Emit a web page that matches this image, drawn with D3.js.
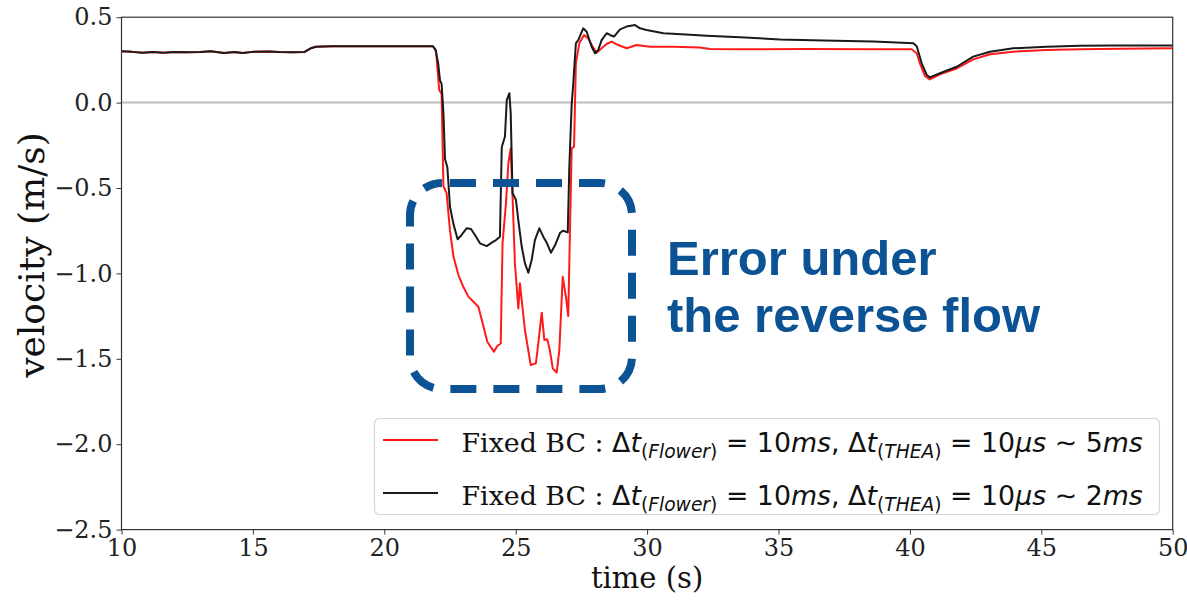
<!DOCTYPE html>
<html>
<head>
<meta charset="utf-8">
<script src="https://cdn.jsdelivr.net/npm/d3@7"></script>
<style>
  html, body { margin: 0; padding: 0; background: #fff; }
  svg { display: block; }
</style>
</head>
<body>
<svg id="chart" width="1187" height="601"></svg>
<script>
// Velocity time histories for two THEA time-step settings
const timeFine = [10.0, 10.4, 10.8, 11.2, 11.6, 12.0, 12.5, 13.0, 13.4, 13.9, 14.3, 14.6, 15.0, 15.6, 16.0, 16.5, 16.95,
  17.2, 17.4, 18.0, 19.0, 20.0, 21.0, 21.85, 21.97, 22.09, 22.18, 22.25, 22.37, 22.50, 22.63, 22.82, 23.01, 23.20,
  23.39, 23.58, 23.74, 23.92, 24.17, 24.30, 24.43, 24.50, 24.63, 24.72, 24.81, 24.88, 24.97, 25.10, 25.16, 25.35,
  25.57, 25.77, 25.86, 25.99, 26.09, 26.20, 26.30, 26.41, 26.56, 26.66, 26.79, 26.91, 27.00, 27.07, 27.13, 27.22,
  27.29, 27.42, 27.60, 27.76, 27.93, 28.08, 28.27, 28.46, 28.65, 28.90, 29.22, 29.60, 30.11, 31.0, 32.0, 32.4,
  33.5, 36.07, 38.6, 40.07, 40.26, 40.38, 40.57, 40.76, 41.14, 41.78, 42.41, 43.05, 43.93, 45.2, 46.47, 48.0, 50.0];
const velFine = [0.300, 0.297, 0.292, 0.296, 0.292, 0.296, 0.295, 0.296, 0.301, 0.291, 0.296, 0.291, 0.297, 0.299, 0.296, 0.295, 0.296,
  0.318, 0.327, 0.330, 0.330, 0.330, 0.330, 0.330, 0.300, 0.074, 0.050, -0.490, -0.530, -0.750, -0.900, -1.010, -1.080, -1.136,
  -1.166, -1.195, -1.290, -1.400, -1.458, -1.425, -1.410, -0.820, -0.590, -0.355, -0.268, -0.550, -0.940, -1.205, -1.058, -1.330,
  -1.536, -1.527, -1.410, -1.230, -1.390, -1.385, -1.450, -1.556, -1.581, -1.450, -1.020, -1.136, -1.250, -0.710, -0.268, -0.258,
  0.230, 0.347, 0.396, 0.376, 0.327, 0.292, 0.318, 0.343, 0.357, 0.337, 0.318, 0.337, 0.327, 0.327, 0.323, 0.314,
  0.312, 0.314, 0.312, 0.312, 0.289, 0.230, 0.156, 0.136, 0.166, 0.200, 0.253, 0.283, 0.298, 0.308, 0.312, 0.315, 0.318];

const timeCoarse = [10.0, 10.4, 10.8, 11.2, 11.6, 12.0, 12.5, 13.0, 13.4, 13.9, 14.3, 14.6, 15.0, 15.6, 16.0, 16.5, 16.95,
  17.2, 17.4, 18.0, 19.0, 20.0, 21.0, 21.85, 21.95, 22.05, 22.12, 22.18, 22.25, 22.31, 22.40, 22.50, 22.63, 22.79,
  22.94, 23.13, 23.30, 23.45, 23.64, 23.90, 24.09, 24.25, 24.40, 24.47, 24.59, 24.66, 24.76, 24.81, 24.88, 25.01,
  25.10, 25.23, 25.35, 25.48, 25.61, 25.73, 25.90, 26.05, 26.18, 26.34, 26.50, 26.69, 26.81, 26.98, 27.04, 27.13,
  27.19, 27.29, 27.38, 27.57, 27.70, 27.89, 28.02, 28.14, 28.27, 28.46, 28.59, 28.74, 28.97, 29.22, 29.54, 29.73,
  29.98, 30.62, 31.3, 32.27, 33.53, 35.06, 36.7, 38.61, 40.13, 40.26, 40.45, 40.64, 40.76, 41.14, 41.78, 42.41,
  43.05, 43.93, 45.2, 46.47, 47.7, 50.0];
const velCoarse = [0.300, 0.297, 0.292, 0.296, 0.292, 0.296, 0.295, 0.296, 0.301, 0.291, 0.296, 0.291, 0.297, 0.299, 0.296, 0.295, 0.296,
  0.318, 0.327, 0.330, 0.330, 0.330, 0.330, 0.330, 0.310, 0.230, 0.130, 0.110, -0.060, -0.330, -0.380, -0.610, -0.710, -0.800,
  -0.775, -0.736, -0.740, -0.775, -0.824, -0.840, -0.820, -0.805, -0.785, -0.260, -0.200, 0.015, 0.055, -0.063, -0.530, -0.570,
  -0.690, -0.844, -0.940, -0.996, -0.920, -0.805, -0.736, -0.785, -0.820, -0.879, -0.834, -0.762, -0.750, -0.760, -0.380, -0.010,
  0.110, 0.347, 0.366, 0.435, 0.415, 0.327, 0.289, 0.308, 0.366, 0.406, 0.396, 0.386, 0.429, 0.445, 0.454, 0.435,
  0.425, 0.406, 0.400, 0.392, 0.382, 0.370, 0.363, 0.357, 0.347, 0.330, 0.230, 0.162, 0.148, 0.172, 0.210, 0.269,
  0.298, 0.318, 0.327, 0.333, 0.335, 0.335];

const xTicks = [10, 15, 20, 25, 30, 35, 40, 45, 50];
const yTicks = [0.5, 0.0, -0.5, -1.0, -1.5, -2.0, -2.5];

const margin = { left: 121.5, right: 1172.7, top: 17.2, bottom: 529.6 };
const svg = d3.select("#chart");

const x = d3.scaleLinear().domain([10, 50]).range([margin.left, margin.right]);
const y = d3.scaleLinear().domain([-2.5, 0.5]).range([margin.bottom, margin.top]);

const serif = "'DejaVu Serif', serif";
const sans = "'DejaVu Sans', sans-serif";

// zero reference line
svg.append("line")
  .attr("x1", x(10)).attr("x2", x(50))
  .attr("y1", y(0)).attr("y2", y(0))
  .attr("stroke", "#bdbdbd").attr("stroke-width", 2);

// series
const line = d3.line().x(d => x(d[0])).y(d => y(d[1]));
const fine = timeFine.map((t, i) => [t, velFine[i]]);
const coarse = timeCoarse.map((t, i) => [t, velCoarse[i]]);

svg.append("path").datum(fine)
  .attr("d", line).attr("fill", "none")
  .attr("stroke", "#ff1a1a").attr("stroke-width", 2).attr("stroke-linejoin", "round");
svg.append("path").datum(coarse)
  .attr("d", line).attr("fill", "none")
  .attr("stroke", "#1a1a1a").attr("stroke-width", 2).attr("stroke-linejoin", "round");

// axes
const fmtY = d => d3.format(".1f")(d).replace("-", "\u2212");
const gx = svg.append("g").attr("transform", `translate(0,${margin.bottom})`)
  .call(d3.axisBottom(x).tickValues(xTicks).tickSize(5).tickPadding(4).tickFormat(d3.format("d")));
const gy = svg.append("g").attr("transform", `translate(${margin.left},0)`)
  .call(d3.axisLeft(y).tickValues(yTicks).tickSize(5).tickPadding(4).tickFormat(fmtY));
[gx, gy].forEach(g => {
  g.select(".domain").remove();
  g.selectAll(".tick line").attr("stroke", "#333");
  g.selectAll(".tick text").attr("font-family", serif).attr("font-size", 24).attr("fill", "#222");
});

// frame
svg.append("rect")
  .attr("x", margin.left).attr("y", margin.top)
  .attr("width", margin.right - margin.left).attr("height", margin.bottom - margin.top)
  .attr("fill", "none").attr("stroke", "#333").attr("stroke-width", 1.2);

// axis titles
svg.append("text").attr("x", (margin.left + margin.right) / 2).attr("y", 588)
  .attr("text-anchor", "middle").attr("font-family", serif).attr("font-size", 29).attr("fill", "#111")
  .text("time (s)");
svg.append("text").attr("transform", `translate(44,255) rotate(-90)`)
  .attr("text-anchor", "middle").attr("font-family", serif).attr("font-size", 36).attr("fill", "#111")
  .text("velocity (m/s)");

// legend
const legendLabels = ["5ms", "2ms"];
const legendColors = ["#ff1a1a", "#1a1a1a"];
const lg = svg.append("g");
lg.append("rect").attr("x", 374.5).attr("y", 418.5).attr("width", 785).attr("height", 96)
  .attr("rx", 5).attr("fill", "#fff").attr("fill-opacity", 0.85).attr("stroke", "#d6d6d6").attr("stroke-width", 1.2);

legendLabels.forEach((lab, i) => {
  const cy = 440 + i * 53;
  lg.append("line").attr("x1", 383).attr("x2", 438).attr("y1", cy).attr("y2", cy)
    .attr("stroke", legendColors[i]).attr("stroke-width", 2);
  const fs = 26.8, sub = 18.7;
  const t = lg.append("text").attr("x", 461.5).attr("y", cy + 12).attr("font-size", fs).attr("fill", "#111");
  const part = (s, fam, style, size, dy) => {
    const ts = t.append("tspan").attr("font-family", fam).attr("font-style", style || "normal").text(s);
    if (size) ts.attr("font-size", size);
    if (dy) ts.attr("dy", dy);
    return ts;
  };
  part("Fixed BC : ", serif);
  part("\u0394", sans);
  part("t", sans, "italic");
  part("(", sans, null, sub, 6);
  part("Flower", sans, "italic", sub);
  part(")", sans, null, sub);
  part(" = 10", sans, null, null, -6);
  part("ms", sans, "italic");
  part(", \u0394", sans);
  part("t", sans, "italic");
  part("(", sans, null, sub, 6);
  part("THEA", sans, "italic", sub);
  part(")", sans, null, sub);
  part(" = 10", sans, null, null, -6);
  part("\u03bcs", sans, "italic");
  part(" \u223c " + lab.replace("ms", ""), sans);
  part("ms", sans, "italic");
});

// highlighted region around the reverse-flow interval
const blue = "#0b5394";
svg.append("rect")
  .attr("x", 410).attr("y", 183).attr("width", 222).attr("height", 206)
  .attr("rx", 32).attr("fill", "none").attr("stroke", blue).attr("stroke-width", 8)
  .attr("stroke-dasharray", "26 17").attr("stroke-dashoffset", -8);

const note = svg.append("text").attr("font-family", "'Liberation Sans', Arial, sans-serif")
  .attr("font-weight", "bold").attr("font-size", 49).attr("fill", blue);
note.append("tspan").attr("x", 667).attr("y", 275).text("Error under");
note.append("tspan").attr("x", 667).attr("y", 332).text("the reverse flow");
</script>
</body>
</html>
